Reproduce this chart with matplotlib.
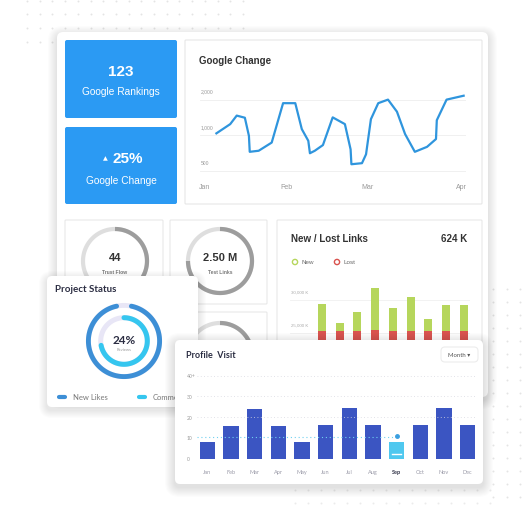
import numpy as np
import matplotlib
matplotlib.use("Agg")
import matplotlib.pyplot as plt
from matplotlib.patches import FancyBboxPatch, Circle, Rectangle

W, H = 522, 506

# Google Change line (x in months from Jan, y in grid steps: 0=500, 1=1,000, 2=2,000)
google_x = [0.14, 0.31, 0.39, 0.49, 0.54, 0.55, 0.66, 0.82, 0.96, 1.11, 1.19, 1.27, 1.29,
            1.35, 1.45, 1.57, 1.72, 1.79, 1.80, 1.93, 1.98, 2.04, 2.13, 2.25, 2.36, 2.46,
            2.58, 2.73, 2.84, 2.85, 2.97, 3.18]
google_y = [1.06, 1.32, 1.56, 1.50, 0.99, 0.54, 0.57, 0.80, 1.91, 1.91, 1.18, 0.85, 0.50,
            0.57, 0.73, 1.51, 1.32, 0.61, 0.19, 0.22, 0.47, 1.46, 1.91, 2.01, 1.67, 1.04,
            0.54, 0.68, 0.90, 1.43, 2.01, 2.12]
google_months = ["Jan", "Feb", "Mar", "Apr"]
google_month_pos = [0, 1, 2, 3.15]
google_levels = [2, 1, 0]
google_level_labels = ["2,000", "1,000", "500"]

# New / Lost Links (K)
links_total = [29350, 26420, 28180, 31770, 28700, 30360, 27120, 29200, 29200]
links_lost = [25300, 25250, 25300, 25450, 25300, 25250, 25300, 25300, 25300]
links_levels = [30000, 25000]
links_level_labels = ["30,000 K", "25,000 K"]

# Profile Visit
visit_months = ["Jan", "Feb", "Mar", "Apr", "May", "Jun", "Jul", "Aug", "Sep", "Oct", "Nov", "Dec"]
visit_values = [7.8, 15.8, 24.0, 15.9, 7.9, 16.0, 24.2, 16.0, 8.0, 16.1, 24.4, 16.1]
visit_levels = [40, 30, 20, 10, 0]
visit_level_labels = ["40+", "30", "20", "10", "0"]
visit_selected = 8

# small donuts
trust_flow = 0.44
text_links = 0.75
third_donut = 0.30
likes_share = 0.94
comments_share = 0.72

fig = plt.figure(figsize=(5.22, 5.06), dpi=100)
fig.patch.set_facecolor("white")


def px_axes(x0, y0, x1, y1, z):
    ax = fig.add_axes([x0 / W, 1 - y1 / H, (x1 - x0) / W, (y1 - y0) / H])
    ax.set_zorder(z)
    return ax


def layer(z):
    ax = px_axes(0, 0, W, H, z)
    ax.set_xlim(0, W)
    ax.set_ylim(H, 0)
    ax.axis("off")
    ax.patch.set_alpha(0)
    return ax


def card(ax, x0, y0, x1, y1, fc="white", ec="none", r=4, shadow=0):
    for i in range(shadow, 0, -1):
        ax.add_patch(FancyBboxPatch((x0 - i, y0 - i + 3), x1 - x0 + 2 * i, y1 - y0 + 2 * i,
                                    boxstyle=f"round,pad=0,rounding_size={r + i}",
                                    fc="black", ec="none", alpha=0.012))
    ax.add_patch(FancyBboxPatch((x0, y0), x1 - x0, y1 - y0,
                                boxstyle=f"round,pad=0,rounding_size={r}",
                                fc=fc, ec=ec, lw=0.8))


def arc(ax, cx, cy, r, start, end, color, lw, cap="butt"):
    t = np.radians(np.linspace(start, end, 120))
    ax.plot(cx + r * np.sin(t), cy - r * np.cos(t), color=color, lw=lw, solid_capstyle=cap)


SANS = "Liberation Sans"
ROUND = ["Lato", "DejaVu Sans"]

# ---- background layer
bg = layer(0)
dx = np.arange(27, 250, 12.7)
for yy in [2, 15, 29, 43]:
    bg.scatter(dx, [yy] * len(dx), s=2, color="#e4e4e4", lw=0)
for xx in [493, 507, 520]:
    ry = np.arange(290, 506, 13)
    bg.scatter([xx] * len(ry), ry, s=2, color="#e4e4e4", lw=0)
bx = np.arange(295, 494, 13)
for yy in [491, 504]:
    bg.scatter(bx, [yy] * len(bx), s=2, color="#ebebeb", lw=0)

card(bg, 57, 33, 488, 398, r=6, shadow=9)

# blue tiles
card(bg, 65, 41, 177, 119, fc="#2b9af3", r=2)
card(bg, 65, 128, 177, 205, fc="#2b9af3", r=2)
bg.text(121, 72, "123", color="white", fontsize=11, fontweight="bold", family=SANS,
        ha="center", va="center")
bg.text(121, 92, "Google Rankings", color="white", fontsize=7.3, family=SANS,
        ha="center", va="center")
bg.text(105, 159, "▲", color="white", fontsize=4.5, ha="center", va="center")
bg.text(128, 159, "25%", color="white", fontsize=11, fontweight="bold", family=SANS,
        ha="center", va="center")
bg.text(121, 181, "Google Change", color="white", fontsize=7.3, family=SANS,
        ha="center", va="center")

# Google Change panel
card(bg, 185, 41, 482, 205, ec="#e6e6e6", r=1)
bg.text(199, 61, "Google Change", color="#333333", fontsize=7, fontweight="bold",
        family=SANS, ha="left", va="center")

# small stat cards
card(bg, 65, 221, 163, 305, ec="#e8e8e8", r=1)
card(bg, 170, 221, 267, 305, ec="#e8e8e8", r=1)
card(bg, 65, 313, 163, 395, ec="#e8e8e8", r=1)
card(bg, 170, 313, 267, 395, ec="#e8e8e8", r=1)
card(bg, 277, 221, 482, 395, ec="#e8e8e8", r=1)

for cx, cy, frac, big, small in [(115, 262, trust_flow, "44", "Trust Flow"),
                                 (220, 262, text_links, "2.50 M", "Test Links"),
                                 (220, 356, third_donut, "", "")]:
    arc(bg, cx, cy, 32, 0, 360, "#dedede", 3.0)
    arc(bg, cx, cy, 32, 0, 360 * frac, "#9d9d9d", 3.0)
    bg.text(cx, cy - 4, big, color="#333333", fontsize=8, fontweight="bold",
            family=SANS, ha="center", va="center")
    bg.text(cx, cy + 10, small, color="#7a7a7a", fontsize=3.6, fontweight="bold",
            family=SANS, ha="center", va="center")

bg.text(291, 239, "New / Lost Links", color="#333333", fontsize=7, fontweight="bold",
        family=SANS, ha="left", va="center")
bg.text(467, 239, "624 K", color="#333333", fontsize=7, fontweight="bold",
        family=SANS, ha="right", va="center")
bg.add_patch(Circle((295, 263), 2.6, fc="none", ec="#b6d65c", lw=1))
bg.text(302, 263, "New", color="#666666", fontsize=4.5, family=SANS, va="center")
bg.add_patch(Circle((337, 263), 2.6, fc="none", ec="#d9534f", lw=1))
bg.text(344, 263, "Lost", color="#666666", fontsize=4.5, family=SANS, va="center")

# ---- Google Change line chart
ax1 = px_axes(200, 85, 466, 176, 1)
ax1.set_xlim(-0.0615, 3.209)
ax1.set_ylim(-0.113, 2.45)
ax1.axis("off")
for lv, lab in zip(google_levels, google_level_labels):
    ax1.axhline(lv, color="#eeeeee", lw=0.6, zorder=0)
    ax1.text(-0.055, lv + 0.25, lab, color="#999999", fontsize=3.6, family=SANS,
             ha="left", va="center")
ax1.plot(google_x, google_y, color="#2f95dd", lw=1.6, solid_joinstyle="round")
for pos, lab in zip(google_month_pos, google_months):
    ax1.text(pos, -0.45, lab, color="#999999", fontsize=5, family=SANS,
             ha="center", va="center", clip_on=False)

# ---- New / Lost Links bars
ax2 = px_axes(290, 280, 470, 360, 1)
ax2.set_xlim(-1.79, 8.35)
v_top = 30000 + 20.7 / 33 * 5000
v_bot = 30000 - 59.3 / 33 * 5000
ax2.set_ylim(v_bot, v_top)
ax2.axis("off")
xi = np.arange(len(links_total))
links_new = [t - l for t, l in zip(links_total, links_lost)]
for lv, lab in zip(links_levels, links_level_labels):
    ax2.axhline(lv, color="#f0f0f0", lw=0.6, zorder=0)
    ax2.text(-1.75, lv + 1250, lab, color="#aaaaaa", fontsize=3.2, family=SANS,
             ha="left", va="center")
ax2.bar(xi, links_lost, width=0.45, color="#d9534f")
ax2.bar(xi, links_new, bottom=links_lost, width=0.45, color="#b6d65c")

# ---- Project Status card
ps = layer(2)
card(ps, 47, 277, 198, 408, r=5, shadow=8)
ps.text(55, 289, "Project Status", color="#2b2d42", fontsize=7, fontweight="bold",
        family=ROUND, ha="left", va="center")
pcx, pcy = 124, 342
arc(ps, pcx, pcy, 35.6, 0, 360, "#e8e6f6", 3.5)
arc(ps, pcx, pcy, 35.6, 12, 12 + 336 * likes_share / 0.94, "#3d8fd6", 3.5, cap="round")
arc(ps, pcx, pcy, 23.3, 0, 360, "#e8e6f6", 3.6)
arc(ps, pcx, pcy, 23.3, 0, 360 * comments_share, "#35c6ef", 3.6, cap="round")
ps.text(pcx, pcy - 2, "24%", color="#2b2d42", fontsize=8.5, fontweight="bold",
        family=ROUND, ha="center", va="center")
ps.text(pcx, pcy + 8, "Reviews", color="#999999", fontsize=3, family=ROUND,
        ha="center", va="center")
ps.plot([59, 65], [398, 398], color="#3d8fd6", lw=3, solid_capstyle="round")
ps.text(73, 398, "New Likes", color="#777777", fontsize=5.5, family=ROUND, va="center")
ps.plot([139, 145], [398, 398], color="#35c6ef", lw=3, solid_capstyle="round")
comm = ps.text(153, 398, "Comments", color="#777777", fontsize=5.5, family=ROUND,
               va="center")
comm.set_clip_path(Rectangle((47, 277), 128, 131, transform=ps.transData))

# ---- Profile Visit card
pv = layer(3)
card(pv, 175, 341, 483, 485, r=5, shadow=10)
pv.text(186, 356, "Profile  Visit", color="#2b2d42", fontsize=6.5, fontweight="bold",
        family=ROUND, ha="left", va="center")
card(pv, 441, 348, 478, 363, ec="#ececec", r=4)
pv.text(459.5, 355.5, "Month ▾", color="#555555", fontsize=4.3, family=ROUND,
        ha="center", va="center")

ax3 = px_axes(186, 370, 478, 462, 4)
ax3.set_xlim(-0.9, 11.44)
ax3.set_ylim(-1.2, 43.2)
ax3.axis("off")
vi = np.arange(len(visit_values))
for lv, lab in zip(visit_levels, visit_level_labels):
    if lv >= 20:
        ax3.hlines(lv, -0.45, 11.37, color="#d8d8e0", lw=0.6, linestyles=(0, (1, 3)))
    ax3.text(-0.87, lv, lab, color="#999999", fontsize=3.6, family=ROUND,
             ha="left", va="center")
colors = ["#3b55c2"] * len(visit_values)
colors[visit_selected] = "#4fc8ef"
ax3.bar(vi, visit_values, width=0.65, color=colors)
ax3.hlines(10.5, -0.45, visit_selected, color="#6fd0f0", lw=0.8, linestyles=(0, (1, 2.5)))
ax3.plot([visit_selected], [10.9], "o", color="#3a9fe0", ms=2.5)
ax3.plot([visit_selected - 0.18, visit_selected + 0.18], [2.2, 2.2], color="white", lw=1)
for i, lab in enumerate(visit_months):
    sel = i == visit_selected
    ax3.text(i, -6.4, lab, color="#2b2d42" if sel else "#9a9aa8", fontsize=4,
             fontweight="bold" if sel else "normal", family=ROUND,
             ha="center", va="center", clip_on=False)

fig.savefig("out.png", dpi=100)
